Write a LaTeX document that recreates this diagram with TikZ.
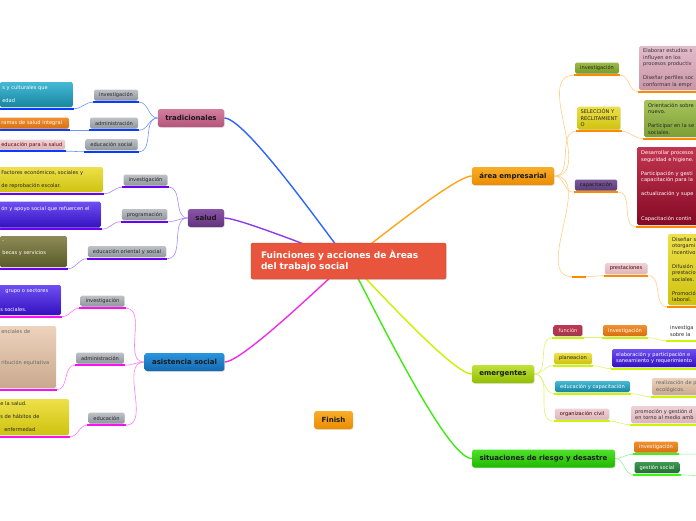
\documentclass[tikz,border=0pt]{standalone}
\usepackage{fontspec}
\setmainfont{DejaVu Sans}
\usepackage{xcolor}
\usepackage{tikz}
\usetikzlibrary{shadows}

% topic colours (top / bottom of the shading)
\definecolor{hubred}{HTML}{E8553C}
\definecolor{tradtop}{HTML}{D47E9E}\definecolor{tradbot}{HTML}{B5557A}
\definecolor{saludtop}{HTML}{8A55A8}\definecolor{saludbot}{HTML}{64337F}
\definecolor{asistop}{HTML}{2A95DE}\definecolor{asisbot}{HTML}{1569B0}
\definecolor{emptop}{HTML}{F8AE2A}\definecolor{empbot}{HTML}{EA8C00}
\definecolor{emertop}{HTML}{BFE23A}\definecolor{emerbot}{HTML}{93BE00}
\definecolor{sittop}{HTML}{4FE12A}\definecolor{sitbot}{HTML}{20B800}
% lines
\definecolor{tradline}{HTML}{2E63FF}\definecolor{tradsub}{HTML}{6E95FF}\definecolor{tradul}{HTML}{0A3CFF}
\definecolor{saludline}{HTML}{8E3BF0}\definecolor{saludsub}{HTML}{A888FF}\definecolor{saludul}{HTML}{6A00F5}
\definecolor{asisline}{HTML}{F02EE6}\definecolor{asissub}{HTML}{FF7AF5}\definecolor{asisul}{HTML}{FF10F0}
\definecolor{empline}{HTML}{FFA31A}\definecolor{empsub}{HTML}{FFCE85}\definecolor{empul}{HTML}{FF8A00}
\definecolor{emerline}{HTML}{CDF000}\definecolor{emersub}{HTML}{D9F56A}\definecolor{emerul}{HTML}{CCF500}
\definecolor{sitline}{HTML}{3DEB0F}\definecolor{sitsub}{HTML}{9CEB9C}\definecolor{situl}{HTML}{3CF510}
% boxes
\definecolor{greytop}{HTML}{BEC2C7}\definecolor{greybot}{HTML}{8F969D}
\definecolor{tealtop}{HTML}{45B9D6}\definecolor{tealbot}{HTML}{17869F}
\definecolor{orgtop}{HTML}{F09030}\definecolor{orgbot}{HTML}{D86F10}
\definecolor{pinktop}{HTML}{EFD2D6}\definecolor{pinkbot}{HTML}{DDB5BB}
\definecolor{yeltop}{HTML}{EDE04A}\definecolor{yelbot}{HTML}{CFC20F}
\definecolor{viotop}{HTML}{6E50F2}\definecolor{viobot}{HTML}{3410C0}
\definecolor{olvtop}{HTML}{8D8C58}\definecolor{olvbot}{HTML}{5A5A28}
\definecolor{begtop}{HTML}{EDD2BC}\definecolor{begbot}{HTML}{C9A98E}
\definecolor{mautop}{HTML}{E3BCCB}\definecolor{maubot}{HTML}{C995A6}
\definecolor{grntop}{HTML}{A7C55C}\definecolor{grnbot}{HTML}{7C9E35}
\definecolor{ogrtop}{HTML}{9CBB45}\definecolor{ogrbot}{HTML}{78982A}
\definecolor{purtop}{HTML}{7C5A9C}\definecolor{purbot}{HTML}{5A3C78}
\definecolor{crmtop}{HTML}{C23550}\definecolor{crmbot}{HTML}{850A25}
\definecolor{dkgtop}{HTML}{3F9A52}\definecolor{dkgbot}{HTML}{1F6E33}

\begin{document}
\begin{tikzpicture}[
        x=1pt, y=-1pt,
        hub/.style={draw=hubred!85!black, fill=hubred, rounded corners=2pt, text=white, font=\fontsize{9}{11}\selectfont\bfseries, align=left, text width=175pt, minimum height=36pt, inner xsep=10pt, drop shadow={opacity=0.3, shadow xshift=0.6pt, shadow yshift=-0.8pt}},
        topic/.style={rounded corners=2.5pt, font=\fontsize{7}{8}\selectfont\bfseries, text=black!90, minimum height=18pt, inner xsep=7.5pt, inner ysep=0pt, drop shadow={opacity=0.25, shadow xshift=0.6pt, shadow yshift=-0.8pt}},
        sub/.style={rounded corners=1.5pt, font=\fontsize{5.1}{6.5}\selectfont, minimum height=11pt, inner xsep=5pt, inner ysep=0pt, drop shadow={opacity=0.2, shadow xshift=0.5pt, shadow yshift=-0.6pt}},
        greybox/.style={sub, top color=greytop, bottom color=greybot, text=black!85},
        leaf/.style={rounded corners=1.5pt, font=\fontsize{5.1}{6.5}\selectfont, align=left, inner ysep=0pt, drop shadow={opacity=0.2, shadow xshift=0.5pt, shadow yshift=-0.6pt}},
        lleaf/.style={leaf, anchor=east, inner xsep=2.5pt},
        rleaf/.style={leaf, anchor=west, inner xsep=4pt, text width=110pt},
        plainleaf/.style={font=\fontsize{5.1}{6.5}\selectfont, align=left, anchor=west, inner xsep=3pt, inner ysep=0pt, text width=40pt},
        uline/.style={line width=1.8pt},
        mline/.style={line width=1.4pt},
        sline/.style={line width=0.6pt}
    ]

    \pgfdeclarelayer{background}
    \pgfsetlayers{background,main}

    \useasboundingbox (0,0) rectangle (696,520);
    \clip (0,0) rectangle (696,520);

    % ==========================================
    % centre and main topics
    % ==========================================
    \node[hub] (hub) at (348.5,261) {Fuinciones y acciones de Àreas\\del trabajo social};

    \node[topic, top color=tradtop, bottom color=tradbot] (trad) at (191,118) {tradicionales};
    \node[topic, top color=saludtop, bottom color=saludbot] (salud) at (206,218) {salud};
    \node[topic, top color=asistop, bottom color=asisbot] (asis) at (184.5,362) {asistencia social};
    \node[topic, top color=emptop, bottom color=empbot] (emp) at (513,176) {área empresarial};
    \node[topic, top color=emertop, bottom color=emerbot] (emer) at (503,374) {emergentes};
    \node[topic, top color=sittop, bottom color=sitbot] (sit) at (543.5,458.5) {situaciones de riesgo y desastre};
    \node[topic, top color=emptop, bottom color=empbot] (fin) at (333.5,420) {Finish};

    % ==========================================
    % tradicionales
    % ==========================================
    \node[greybox] (tinv) at (116,95) {investigación};
    \node[greybox] (tadm) at (114,123) {administración};
    \node[greybox] (tsoc) at (111.5,144.5) {educación social};

    \node[lleaf, top color=tealtop, bottom color=tealbot, text=white, text width=68pt, minimum height=25pt] (tinvL) at (73,94.5) {s y culturales que\\[6.5pt]edad};
    \node[lleaf, top color=orgtop, bottom color=orgbot, text=white, text width=65pt, minimum height=11pt] (tadmL) at (69,123) {\mbox{ramas de salud integral}};
    \node[lleaf, top color=pinktop, bottom color=pinkbot, text=red!40!black, text width=61pt, minimum height=10pt] (tsocL) at (65,144.5) {\mbox{educación para la salud}};

    % ==========================================
    % salud
    % ==========================================
    \node[greybox] (sinv) at (145.5,180) {investigación};
    \node[greybox] (sprog) at (144.5,214.5) {programación};
    \node[greybox] (sedu) at (127,251.5) {educación oriental y social};

    \node[lleaf, top color=yeltop, bottom color=yelbot, text=black!85, text width=99pt, minimum height=25pt] (sinvL) at (103,179.5) {Factores económicos, sociales y\\[6.5pt]de reprobación escolar.};
    \node[lleaf, top color=viotop, bottom color=viobot, text=white, text width=97pt, minimum height=26pt] (sprogL) at (101,214.5) {\mbox{ón y apoyo social que refuercen el}\\[6.5pt]~};
    \node[lleaf, top color=olvtop, bottom color=olvbot, text=white, text width=62pt, minimum height=31pt] (seduL) at (67,251.5) {-\\[5.5pt]becas y servicios\\[0.5pt]~};

    % ==========================================
    % asistencia social
    % ==========================================
    \node[greybox] (ainv) at (102.5,301) {investigación};
    \node[greybox] (aadm) at (100,358) {administración};
    \node[greybox] (aedu) at (106.5,418) {educación};

    \node[lleaf, top color=viotop, bottom color=viobot, text=white, text width=58pt, minimum height=30pt] (ainvL) at (61,300) {\hspace*{5pt}grupo o sectores\\[12.5pt]s sociales.};
    \node[lleaf, top color=begtop, bottom color=begbot, text=black!60, text width=52pt, minimum height=62pt] (aadmL) at (56,357) {enciales de\\[24.5pt]\mbox{ribución equitativa}\\[12.5pt]~};
    \node[lleaf, top color=yeltop, bottom color=yelbot, text=black!85, text width=66pt, minimum height=36pt] (aeduL) at (69,417) {e la salud.\\[6.5pt]s de hábitos de\\[6.5pt]\hspace*{4pt}enfermedad};

    % ==========================================
    % área empresarial
    % ==========================================
    \node[sub, top color=ogrtop, bottom color=ogrbot, text=black!85] (einv) at (597,68) {investigación};
    \node[sub, top color=yeltop, bottom color=yelbot, text=black!85, align=left, inner xsep=3pt, minimum height=23pt] (esel) at (599,118) {SELECCIÓN Y\\RECLITAMIENT\\O};
    \node[sub, top color=purtop, bottom color=purbot, text=black!90] (ecap) at (596,185) {capacitación};
    \node[minimum width=11pt, minimum height=10pt, inner sep=0pt] (eblank) at (579,270) {};
    \node[sub, top color=pinktop, bottom color=pinkbot, text=red!30!black] (epre) at (626,268.5) {prestaciones};

    \node[rleaf, top color=mautop, bottom color=maubot, text=black!80, minimum height=44pt] (einvL) at (639,68) {Elaborar estudios s\\influyen en los\\procesos productiv\\[7.5pt]Diseñar perfiles soc\\conforman la empr};
    \node[rleaf, top color=grntop, bottom color=grnbot, text=black!85, minimum height=37pt] (eselL) at (644,118.5) {Orientación sobre\\nuevo.\\[7.5pt]Participar en la se\\sociales.};
    \node[rleaf, top color=crmtop, bottom color=crmbot, text=white, minimum height=78pt] (ecapL) at (637,186) {Desarrollar procesos\\seguridad e higiene.\\[7.5pt]Participación y gesti\\capacitación para la\\[7.5pt]actualización y supe\\[18pt]Capacitación contin};
    \node[rleaf, top color=yeltop, bottom color=yelbot, text=black!85, minimum height=71pt] (epreL) at (668,269.5) {Diseñar s\\otorgami\\incentivo\\[7.5pt]Difusión\\prestacio\\sociales.\\[7.5pt]Promoció\\laboral.};

    % ==========================================
    % emergentes
    % ==========================================
    \node[sub, top color=crmtop, bottom color=crmbot!80!white, text=pink!40!white] (mfun) at (568,330.5) {función};
    \node[sub, top color=orgtop, bottom color=orgbot, text=white] (mfinv) at (625,330.5) {investigación};
    \node[sub, top color=yeltop, bottom color=yelbot, text=black!85] (mpla) at (573,358.5) {planeacion};
    \node[sub, top color=tealtop, bottom color=tealbot, text=white] (medu) at (592.5,386.5) {educación y capacitación};
    \node[sub, top color=pinktop, bottom color=pinkbot, text=red!25!black] (morg) at (582,414) {organización civil};

    \node[plainleaf, minimum height=16pt, text=black!85] (mfinvL) at (667,331) {investiga\\sobre la};
    \node[rleaf, top color=viotop, bottom color=viobot, text=white, minimum height=18pt] (mplaL) at (612,358) {elaboración y participación e\\saneamiento y requerimiento};
    \node[rleaf, top color=begtop, bottom color=begbot, text=black!60, minimum height=17pt] (meduL) at (652,386.5) {realización de p\\ecológicos.};
    \node[rleaf, top color=pinktop, bottom color=pinkbot, text=black!80, minimum height=17pt] (morgL) at (631,414.5) {promoción y gestión d\\en torno al medio amb};

    % ==========================================
    % situaciones de riesgo y desastre
    % ==========================================
    \node[sub, top color=orgtop, bottom color=orgbot, text=white] (xinv) at (656,447) {investigación};
    \node[sub, top color=dkgtop, bottom color=dkgbot, text=white] (xges) at (657,467.5) {gestión social};
    \coordinate (xinvE) at (702,454);
    \coordinate (xgesE) at (702,476);

    % underlines
    \foreach \n in {tinv,tadm,tsoc,tinvL,tadmL,tsocL}
        \draw[uline, draw=tradul] ([xshift=-1pt,yshift=-1.5pt]\n.south west) coordinate (\n-l) -- ([xshift=1pt,yshift=-1.5pt]\n.south east) coordinate (\n-r);
    \foreach \n in {sinv,sprog,sedu,sinvL,sprogL,seduL}
        \draw[uline, draw=saludul] ([xshift=-1pt,yshift=-1.5pt]\n.south west) coordinate (\n-l) -- ([xshift=1pt,yshift=-1.5pt]\n.south east) coordinate (\n-r);
    \foreach \n in {ainv,aadm,aedu,ainvL,aadmL,aeduL}
        \draw[uline, draw=asisul] ([xshift=-1pt,yshift=-1.5pt]\n.south west) coordinate (\n-l) -- ([xshift=1pt,yshift=-1.5pt]\n.south east) coordinate (\n-r);
    \foreach \n in {einv,esel,ecap,eblank,epre,einvL,eselL,ecapL,epreL}
        \draw[uline, draw=empul] ([xshift=-1pt,yshift=-1.5pt]\n.south west) coordinate (\n-l) -- ([xshift=1pt,yshift=-1.5pt]\n.south east) coordinate (\n-r);
    \foreach \n in {mfun,mfinv,mpla,medu,morg,mfinvL,mplaL,meduL,morgL}
        \draw[uline, draw=emerul] ([xshift=-1pt,yshift=-1.5pt]\n.south west) coordinate (\n-l) -- ([xshift=1pt,yshift=-1.5pt]\n.south east) coordinate (\n-r);
    \foreach \n in {xinv,xges}
        \draw[uline, draw=situl] ([xshift=-1pt,yshift=-1.5pt]\n.south west) coordinate (\n-l) -- ([xshift=1pt,yshift=-1.5pt]\n.south east) coordinate (\n-r);

    % ==========================================
    % connectors
    % ==========================================
    \begin{pgfonlayer}{background}
        \draw[mline, draw=tradline] (hub.center) to[out=131, in=0, looseness=0.3] (trad.east);
        \draw[mline, draw=saludline] (hub.center) to[out=161, in=0, looseness=0.3] (salud.east);
        \draw[mline, draw=asisline] (hub.center) to[out=219, in=0, looseness=0.3] (asis.east);
        \draw[mline, draw=empline] (hub.center) to[out=34, in=180, looseness=0.3] (emp.west);
        \draw[mline, draw=emerline] (hub.center) to[out=-42, in=180, looseness=0.3] (emer.west);
        \draw[mline, draw=sitline] (hub.center) to[out=-58, in=180, looseness=0.3] (sit.west);

        \foreach \a/\b in {tinv/tinvL, tadm/tadmL, tsoc/tsocL} {
            \draw[sline, draw=tradsub] (trad.west) to[out=180, in=0] (\a-r);
            \draw[sline, draw=tradsub] (\a-l) to[out=180, in=0] (\b-r);
        }
        \foreach \a/\b in {sinv/sinvL, sprog/sprogL, sedu/seduL} {
            \draw[sline, draw=saludsub] (salud.west) to[out=180, in=0] (\a-r);
            \draw[sline, draw=saludsub] (\a-l) to[out=180, in=0] (\b-r);
        }
        \foreach \a/\b in {ainv/ainvL, aadm/aadmL, aedu/aeduL} {
            \draw[sline, draw=asissub] (asis.west) to[out=180, in=0] (\a-r);
            \draw[sline, draw=asissub] (\a-l) to[out=180, in=0] (\b-r);
        }
        \foreach \a in {einv, esel, ecap, eblank}
            \draw[sline, draw=empsub] (emp.east) to[out=0, in=180] (\a-l);
        \draw[sline, draw=empsub] (eblank-r) to[out=0, in=180] (epre-l);
        \foreach \a/\b in {einv/einvL, esel/eselL, ecap/ecapL, epre/epreL}
            \draw[sline, draw=empsub] (\a-r) to[out=0, in=180] (\b-l);

        \foreach \a in {mfun, mpla, medu, morg}
            \draw[sline, draw=emersub] (emer.east) to[out=0, in=180] (\a-l);
        \foreach \a/\b in {mfun/mfinv, mfinv/mfinvL, mpla/mplaL, medu/meduL, morg/morgL}
            \draw[sline, draw=emersub] (\a-r) to[out=0, in=180] (\b-l);

        \foreach \a in {xinv, xges}
            \draw[sline, draw=sitsub] (sit.east) to[out=0, in=180] (\a-l);
        \draw[sline, draw=sitsub] (xinv-r) -- (xinvE);
        \draw[sline, draw=sitsub] (xges-r) -- (xgesE);
    \end{pgfonlayer}

\end{tikzpicture}
\end{document}
